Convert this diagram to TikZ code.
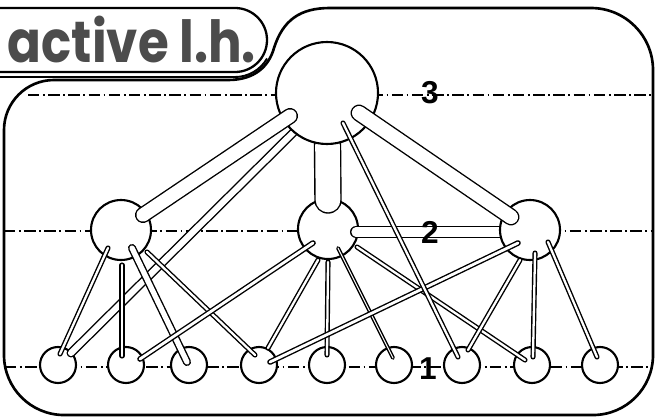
\documentclass[tikz,border=0pt]{standalone}
\usepackage{fontspec}
\usetikzlibrary{calc}
\newfontfamily\titlefont{Poppins}
\newfontfamily\levelfont{Liberation Sans}
\pgfdeclarelayer{bg}
\pgfdeclarelayer{mid}
\pgfsetlayers{bg,mid,main}

\begin{document}
\begin{tikzpicture}[x=0.4mm, y=-0.4mm,
    levelline/.style={line width=1.4pt, dash pattern=on 13pt off 4pt on 2pt off 4pt},
    unit/.style={circle, draw, fill=white, line width=2.4pt, inner sep=0pt},
    bigunit/.style={unit, minimum size=40.8mm},
    midunit/.style={unit, minimum size=24mm},
    lowunit/.style={unit, minimum size=14.4mm},
    tube/.style={line width=1.6pt, double=white, double distance=#1, line cap=round},
    num/.style={font=\levelfont\bfseries\fontsize{36}{36}\selectfont}]

  \useasboundingbox (0,0) rectangle (660,419);
  \clip (0,0) rectangle (660,419);

  % title tab
  \draw[line width=2.6pt, rounded corners=12.8mm] (-60,8) rectangle (267,72);
  \draw[line width=2.2pt] (-10,77) -- (235,77) arc[start angle=90, end angle=30, radius=37];
  \node[anchor=base east, text=black!70, xscale=0.86, inner sep=0pt,
    font=\titlefont\bfseries\fontsize{66}{66}\selectfont]
    (title) at (256,62) {active l.h.};

  % frame
  \draw[line width=3pt] (228,80) -- (54,80) arc[start angle=270, end angle=180, radius=50]
    -- (4,355) arc[start angle=180, end angle=90, radius=60]
    -- (593,415) arc[start angle=90, end angle=0, radius=60]
    -- (653,70) arc[start angle=0, end angle=-90, radius=62]
    -- (330,8) .. controls (300,8) and (283,20) .. (274,48)
    .. controls (269,66) and (255,80) .. (228,80) -- cycle;

  \begin{pgfonlayer}{bg}
    % levels
    \draw[levelline] (28,95) -- (653,95);
    \draw[levelline] (4,231) -- (653,231);
    \draw[levelline] (5,367) -- (652,367);

    % level 2 and level 1 units
    \node[midunit] (L2) at (121,230) {};
    \node[midunit] (M2) at (328,229) {};
    \foreach \x [count=\i] in {58,126,189,259,327,394,462,532,600}
      \node[lowunit] (b\i) at (\x,365) {};
  \end{pgfonlayer}

  % top unit and right unit
  \node[bigunit] (T) at (327,93) {};
  \node[midunit] (R2) at (530,230) {};

  \begin{pgfonlayer}{mid}
    \draw[tube=28pt] (T) -- ($(M2)+(0,-29)$);
    \draw[tube=7pt] ($(T)+(-20,26)$) -- ($(b1)+(13,-12)$);
    \draw[tube=10.5pt] ($(M2)+(28,3)$) -- ($(R2)+(-10,2)$);
  \end{pgfonlayer}

  % thick links
  \draw[tube=15pt] ($(T)+(-37,23)$) -- ($(L2)+(22,-15)$);
  \draw[tube=16pt] ($(T)+(32,20)$) -- ($(R2)+(-19,-13)$);

  % links from left unit
  \draw[tube=2.6pt] ($(L2)+(-13,18)$) -- ($(b1)+(2,-11)$);
  \draw[tube=2.6pt] ($(L2)+(1,35)$) -- ($(b2)+(-4,-9)$);
  \draw[tube=6pt] ($(L2)+(11,18)$) -- ($(b3)+(-2,-3)$);
  \draw[tube=2.6pt] ($(L2)+(26,22)$) -- ($(b4)+(-4,-10)$);

  % links from middle unit
  \draw[tube=3.2pt] ($(M2)+(-15,14)$) -- ($(b2)+(14,-6)$);
  \draw[tube=2.6pt] ($(M2)+(-10,31)$) -- ($(b4)+(9,-17)$);
  \draw[tube=2.6pt] ($(M2)+(0,33)$) -- ($(b5)+(0,-10)$);
  \draw[tube=1.2pt] ($(M2)+(10,19)$) -- ($(b6)+(-1,-7)$);
  \draw[tube=2.6pt] ($(M2)+(29,18)$) -- ($(b8)+(-7,-5)$);

  % links from right unit
  \draw[tube=3.2pt] ($(R2)+(-12,13)$) -- ($(b4)+(11,-3)$);
  \draw[tube=2.6pt] ($(R2)+(-10,30)$) -- ($(b7)+(6,-15)$);
  \draw[tube=2.6pt] ($(R2)+(5,23)$) -- ($(b8)+(1,-8)$);
  \draw[tube=2.6pt] ($(R2)+(18,12)$) -- ($(b9)+(-3,-8)$);

  % long link from top unit
  \draw[tube=2.6pt] ($(T)+(16,30)$) -- ($(b7)+(-4,-8)$);

  % level numbers
  \node[num] (n3) at (430,93) {3};
  \node[num] (n2) at (430,232) {2};
  \node[num] (n1) at (428,369) {1};
\end{tikzpicture}
\end{document}
